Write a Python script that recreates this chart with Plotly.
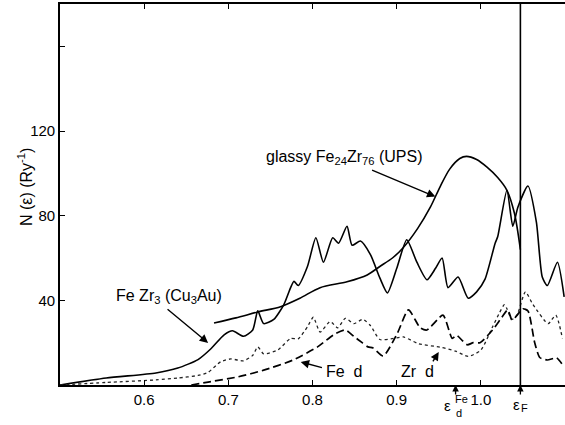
import plotly.graph_objects as go

# FeZr3 (Cu3Au) total DOS, solid
tot_x = [0.50, 0.555, 0.614, 0.640, 0.664, 0.679, 0.695, 0.705, 0.718, 0.729, 0.735, 0.742, 0.754, 0.766,
         0.774, 0.778, 0.783, 0.794, 0.804, 0.813, 0.824, 0.831, 0.841, 0.847, 0.857, 0.869, 0.880, 0.889,
         0.900, 0.912, 0.924, 0.936, 0.946, 0.954, 0.961, 0.973, 0.985, 0.995, 1.005, 1.017, 1.020, 1.031,
         1.038, 1.044, 1.056, 1.066, 1.073, 1.079, 1.091, 1.099]
tot_y = [0, 3.3, 5.7, 8, 12, 17, 23.7, 25.6, 23, 26, 35, 29, 31, 38,
         46, 49, 47, 56, 69.6, 58, 69.6, 67, 75, 66, 68, 61.5, 50.6, 43.5,
         55, 68.6, 58, 49.7, 55, 60, 46, 51, 41, 44, 50, 67, 70, 92,
         75, 84, 94, 77, 51, 47, 58, 41.6]

# glassy Fe24Zr76 (UPS), solid smooth
ups_x = [0.683, 0.709, 0.735, 0.762, 0.785, 0.809, 0.841, 0.865, 0.880, 0.895, 0.908, 0.925, 0.940,
         0.952, 0.963, 0.975, 0.983, 0.995, 1.007, 1.020, 1.031, 1.040, 1.047]
ups_y = [29.3, 31.7, 34.5, 37, 41, 46, 48.8, 52, 56, 60, 65, 74, 84,
         94, 102, 107, 108, 106.5, 103, 98, 92, 81, 64]

# Zr d, dotted
zr_x = [0.50, 0.555, 0.614, 0.640, 0.664, 0.676, 0.691, 0.703, 0.718, 0.729, 0.735, 0.742, 0.759, 0.774,
        0.783, 0.794, 0.801, 0.809, 0.821, 0.830, 0.839, 0.849, 0.860, 0.869, 0.880, 0.896, 0.908, 0.926,
        0.953, 0.970, 0.985, 1.000, 1.014, 1.022, 1.028, 1.031, 1.037, 1.043, 1.053, 1.062, 1.080, 1.089, 1.097]
zr_y = [0, 1.2, 2.4, 3.3, 4.5, 6, 11, 12.3, 11.4, 14, 18, 14.7, 16.6, 22,
        21.8, 27.5, 32, 25, 30, 27, 31.5, 29, 31, 28, 21.5, 22, 22.7, 19.5,
        17.8, 16, 13.5, 16.5, 27.5, 34, 38, 36, 31, 33, 44, 38, 29, 33, 22]

# Fe d, dashed
fe_x = [0.656, 0.676, 0.711, 0.742, 0.777, 0.806, 0.825, 0.839, 0.849, 0.859, 0.866, 0.872, 0.884, 0.901,
        0.914, 0.928, 0.936, 0.955, 0.966, 0.971, 0.978, 0.984, 0.991, 0.999, 1.014, 1.025, 1.032, 1.037,
        1.041, 1.050, 1.056, 1.064, 1.070, 1.079, 1.090, 1.099]
fe_y = [0, 1.4, 3.8, 7, 11.8, 18, 23.7, 26, 23, 20, 18, 17.5, 13.7, 24.6,
        35.5, 27, 26, 33, 22, 23.5, 21, 19, 20, 20, 26, 32, 35.5, 30.7,
        32, 36, 35, 20, 13, 11.8, 12.8, 8.5]

x_ticks = [0.6, 0.7, 0.8, 0.9, 1.0, 1.1]
x_ticktext = ["0.6", "0.7", "0.8", "0.9", "1.0", ""]
y_ticks = [40, 80, 120, 160]
y_ticktext = ["40", "80", "120", ""]

e_fermi = 1.047
e_d_fe = 0.970

FONT = "Liberation Sans"

fig = go.Figure()
fig.add_trace(go.Scatter(x=tot_x, y=tot_y, mode="lines",
                         line=dict(color="black", width=1.6, shape="spline", smoothing=0.6)))
fig.add_trace(go.Scatter(x=ups_x, y=ups_y, mode="lines",
                         line=dict(color="black", width=1.6, shape="spline", smoothing=0.8)))
fig.add_trace(go.Scatter(x=zr_x, y=zr_y, mode="lines",
                         line=dict(color="#222", width=1.3, dash="dot", shape="spline", smoothing=0.6)))
fig.add_trace(go.Scatter(x=fe_x, y=fe_y, mode="lines",
                         line=dict(color="black", width=1.7, dash="8px,4px", shape="spline", smoothing=0.6)))

# Fermi level vertical line
fig.add_shape(type="line", x0=e_fermi, x1=e_fermi, y0=0, y1=180, xref="x", yref="y",
              line=dict(color="black", width=1.6))

ann = []
def arrow(x, y, ax, ay):
    ann.append(dict(x=x, y=y, ax=ax, ay=ay, xref="x", yref="y", axref="x", ayref="y",
                    text="", showarrow=True, arrowhead=2, arrowsize=1.2, arrowwidth=1.4,
                    arrowcolor="black"))

def label(text, x, y, size=16, xanchor="center"):
    ann.append(dict(x=x, y=y, xref="x", yref="y", text=text, showarrow=False,
                    font=dict(family=FONT, size=size, color="black"), xanchor=xanchor, yanchor="middle"))

label("glassy Fe<sub>24</sub>Zr<sub>76</sub> (UPS)", 0.838, 107.5, size=16)
arrow(0.946, 89, 0.869, 101.8)
label("Fe Zr<sub>3</sub> (Cu<sub>3</sub>Au)", 0.630, 41.7, size=16)
arrow(0.676, 19.9, 0.626, 36.4)
label("Fe  d", 0.838, 6.2, size=16)
arrow(0.786, 10.9, 0.813, 8.0)
label("Zr  d", 0.925, 6.2, size=16)
arrow(0.950, 15.6, 0.942, 10.4)

# arrows below the axis (pixel offsets)
for xv in (e_d_fe, e_fermi):
    ann.append(dict(x=xv, y=0, xref="x", yref="y", ax=0, ay=11, text="", showarrow=True,
                    arrowhead=2, arrowsize=1, arrowwidth=1.3, arrowcolor="black"))

def plabel(text, x, ypx, size=15):
    ann.append(dict(x=x, y=0, xref="x", yref="y",
                    yshift=-(ypx - 385), text=text, showarrow=False,
                    font=dict(family=FONT, size=size, color="black"),
                    xanchor="center", yanchor="middle"))

plabel("ε", 0.9604, 405)
plabel("Fe", 0.9765, 399, size=11)
plabel("d", 0.9745, 413, size=11)
plabel("ε", 1.042, 404)
plabel("F", 1.0515, 408, size=11)

# y-axis title
ann.append(dict(x=-0.069, y=0.52, xref="paper", yref="paper", text="N (ε) (Ry<sup>-1</sup>)",
                textangle=-90, showarrow=False, font=dict(family=FONT, size=16, color="black"),
                xanchor="center", yanchor="middle"))

fig.update_layout(
    width=565, height=425,
    margin=dict(l=60, r=0, t=4, b=40),
    paper_bgcolor="white", plot_bgcolor="white",
    showlegend=False,
    annotations=ann,
    font=dict(family=FONT, size=15, color="black"),
    xaxis=dict(range=[0.5, 1.1], tickvals=x_ticks, ticktext=x_ticktext, ticks="inside", ticklen=5,
               tickwidth=1.3, tickcolor="black", showline=True, linecolor="black", linewidth=1.6,
               mirror="ticks", showgrid=False, zeroline=False,
               tickfont=dict(family=FONT, size=15, color="black")),
    yaxis=dict(range=[0, 180], tickvals=y_ticks, ticktext=y_ticktext, ticks="inside", ticklen=5,
               tickwidth=1.3, tickcolor="black", showline=True, linecolor="black", linewidth=1.6,
               showgrid=False, zeroline=False,
               tickfont=dict(family=FONT, size=15, color="black")),
)

fig.write_html("out.html")
